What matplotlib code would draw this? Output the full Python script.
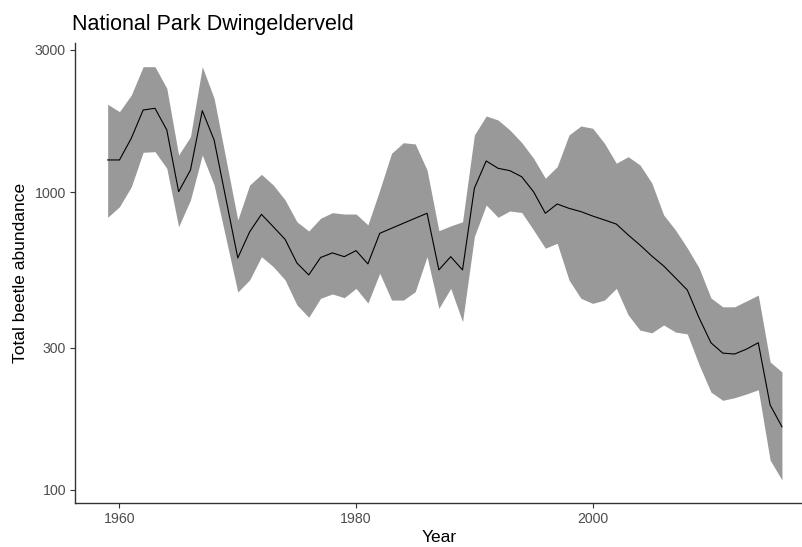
import numpy as np
import matplotlib.pyplot as plt
from matplotlib.ticker import FixedLocator, FixedFormatter, NullLocator

plt.rcParams['font.family'] = ['Liberation Sans', 'DejaVu Sans']

# Yearly index with confidence band
years = [1959, 1960, 1961, 1962, 1963, 1964, 1965, 1966, 1967, 1968,
         1970, 1971, 1972, 1973, 1974, 1975, 1976, 1977, 1978, 1979,
         1980, 1981, 1982, 1983, 1984, 1985, 1986, 1987, 1988, 1989,
         1990, 1991, 1992, 1993, 1994, 1995, 1996, 1997, 1998, 1999,
         2000, 2001, 2002, 2003, 2004, 2005, 2006, 2007, 2008, 2009,
         2010, 2011, 2012, 2013, 2014, 2015, 2016]
abundance = [1282, 1282, 1516, 1886, 1911, 1616, 1003, 1186, 1876, 1496,
             601, 735, 842, 765, 694, 578, 527, 603, 625, 607,
             636, 574, 727, 756, 786, 817, 849, 548, 607, 548,
             1030, 1272, 1202, 1180, 1126, 1003, 849, 912, 882, 860,
             831, 806, 781, 718, 664, 610, 565, 515, 469, 378,
             312, 288, 286, 297, 312, 193, 163]
upper = [1971, 1862, 2118, 2636, 2636, 2231, 1332, 1535, 2636, 2064,
         806, 1056, 1147, 1056, 941, 795, 740, 817, 853, 844,
         844, 776, 1016, 1350, 1465, 1451, 1186, 742, 770, 795,
         1555, 1801, 1746, 1616, 1467, 1299, 1113, 1217, 1555, 1667,
         1638, 1458, 1250, 1315, 1233, 1073, 838, 746, 649, 556,
         441, 412, 412, 431, 451, 269, 249]
lower = [823, 893, 1042, 1360, 1367, 1202, 765, 941, 1332, 1056,
         462, 507, 607, 562, 507, 418, 380, 440, 455, 442,
         475, 424, 534, 434, 434, 463, 607, 407, 475, 367,
         709, 905, 823, 864, 854, 746, 648, 673, 507, 440,
         423, 434, 475, 387, 344, 337, 358, 339, 334, 263,
         213, 200, 204, 210, 217, 126, 108]

y_ticks = [100, 300, 1000, 3000]

fig = plt.figure(figsize=(8.03, 5.47), dpi=100)
ax = fig.add_axes([0.0934, 0.0804, 0.9066, 0.841])

ax.fill_between(years, lower, upper, color='#999999', linewidth=0)
ax.plot(years, abundance, color='black', linewidth=0.8)

ax.set_yscale('log')
ax.set_ylim(90.4, 3166)
ax.set_xlim(1956.24, 2017.78)
ax.yaxis.set_major_locator(FixedLocator(y_ticks))
ax.yaxis.set_major_formatter(FixedFormatter([str(t) for t in y_ticks]))
ax.yaxis.set_minor_locator(NullLocator())
ax.set_xticks([1960, 1980, 2000])

for side in ['top', 'right']:
    ax.spines[side].set_visible(False)
for side in ['left', 'bottom']:
    ax.spines[side].set_color('#333333')
    ax.spines[side].set_linewidth(1.0)
ax.tick_params(axis='both', length=3.5, width=0.8, color='#333333',
               labelcolor='#4d4d4d', labelsize=10.2, pad=3)

ax.set_xlabel('Year', fontsize=12.5, color='black', labelpad=3)
ax.set_ylabel('Total beetle abundance', fontsize=12.5, color='black', labelpad=5)
ax.set_title('National Park Dwingelderveld', fontsize=15.5, loc='left', pad=9,
             x=-0.004)

plt.savefig('out.png', dpi=100)
